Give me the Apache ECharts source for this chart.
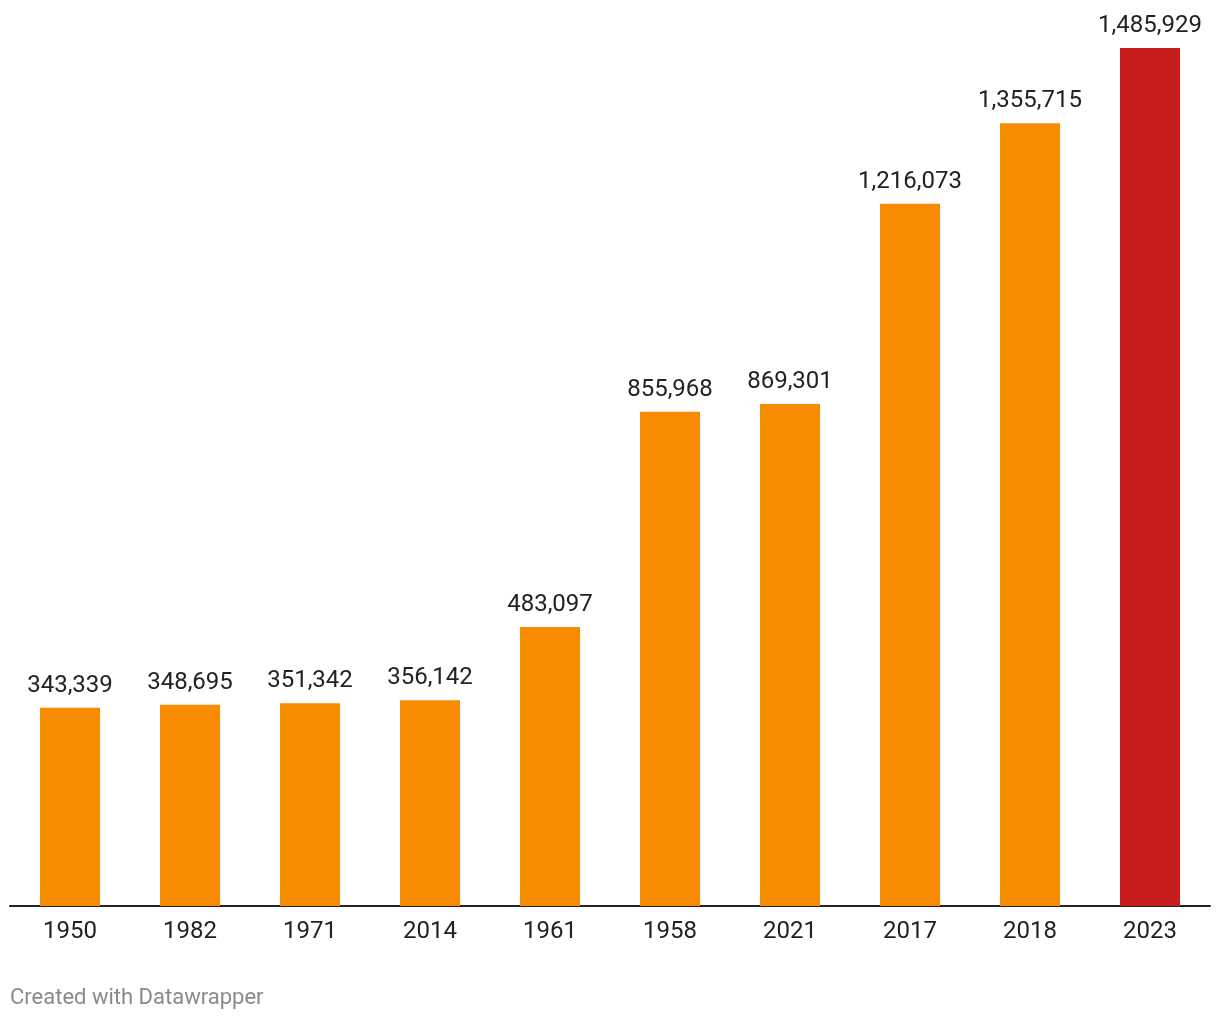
<!DOCTYPE html>
<html>
<head>
<meta charset="utf-8">
<script src="https://cdn.jsdelivr.net/npm/echarts@6/dist/echarts.min.js"></script>
<style>
html,body{margin:0;padding:0;background:#fff;}
#chart{width:1220px;height:1020px;}
</style>
</head>
<body>
<div id="chart"></div>
<script>
const categories = ['1950','1982','1971','2014','1961','1958','2021','2017','2018','2023'];
const values = [343339, 348695, 351342, 356142, 483097, 855968, 869301, 1216073, 1355715, 1485929];
const highlightCategory = '2023';
const baseColor = '#f88c00';
const highlightColor = '#c71e1d';

const chart = echarts.init(document.getElementById('chart'), null, {renderer:'canvas'});
const font = 'Roboto, "Noto Sans", sans-serif';
chart.setOption({
  animation: false,
  backgroundColor: '#ffffff',
  grid: {left: 10, right: 10, top: 48, bottom: 114, containLabel: false},
  xAxis: {
    type: 'category',
    data: categories,
    axisLine: {show: true, lineStyle: {color: '#222222', width: 2}},
    axisTick: {show: false},
    axisLabel: {color: '#222222', fontSize: 24, fontFamily: font, margin: 14}
  },
  yAxis: {
    type: 'value',
    min: 0,
    max: function (v) { return v.max; },
    show: false,
    splitLine: {show: false}
  },
  series: [{
    type: 'bar',
    barWidth: '50%',
    data: values.map((v, i) => ({
      value: v,
      itemStyle: {color: categories[i] === highlightCategory ? highlightColor : baseColor}
    })),
    label: {
      show: true,
      position: 'top',
      distance: 10,
      color: '#222222',
      fontSize: 24,
      fontFamily: font,
      formatter: p => p.value.toLocaleString('en-US')
    }
  }],
  graphic: [{
    type: 'text',
    left: 10,
    top: 987,
    style: {text: 'Created with Datawrapper', fill: '#8a8a8a', fontSize: 22, fontFamily: font}
  }]
});
</script>
</body>
</html>
